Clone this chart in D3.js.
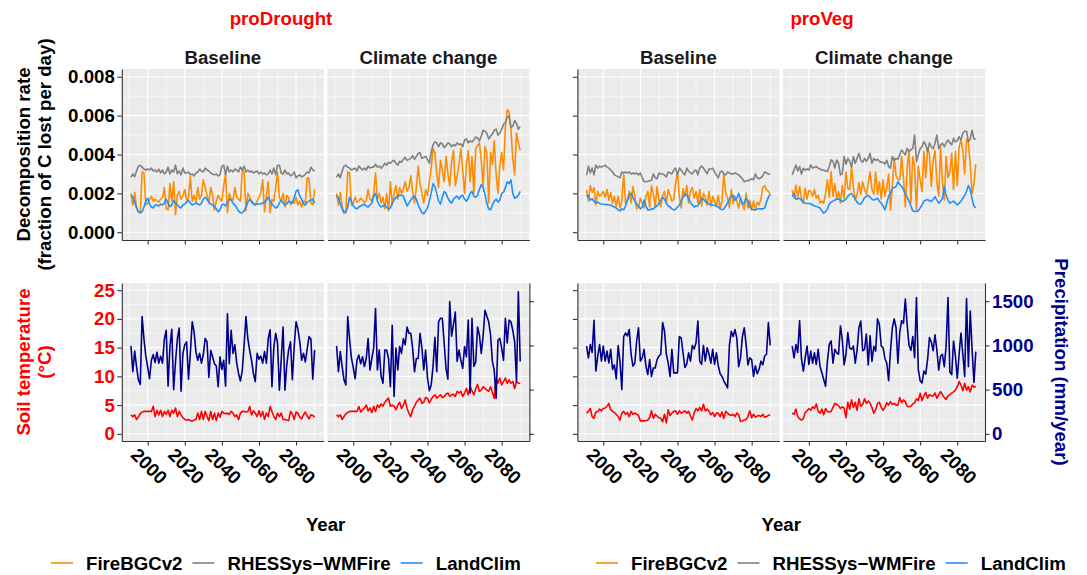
<!DOCTYPE html>
<html>
<head>
<meta charset="utf-8">
<script src="https://cdn.jsdelivr.net/npm/d3@7"></script>
<style>
  body { margin: 0; background: #fff; overflow: hidden; }
  text { font-family: "Liberation Sans", Arial, sans-serif; font-weight: bold; }
</style>
</head>
<body>
<div id="chart"></div>
<script>
// --- categories & ticks ---
const years = d3.range(1991, 2091);
const xTicks = [2000, 2020, 2040, 2060, 2080];
const xMinor = [1990, 2010, 2030, 2050, 2070, 2090];
const decompTicks = [0, 0.002, 0.004, 0.006, 0.008];
const decompMinor = [0.001, 0.003, 0.005, 0.007];
const tempTicks = [0, 5, 10, 15, 20, 25];
const tempMinor = [2.5, 7.5, 12.5, 17.5, 22.5];
const precipTicks = [0, 500, 1000, 1500];
const sites = ["proDrought", "proVeg"];
const scenarios = ["Baseline", "Climate change"];
const models = ["FireBGCv2", "RHESSys\u2212WMFire", "LandClim"];
const modelColors = ["#FF8C00", "#808080", "#1E90FF"];

// --- decomposition rate (x 1e-3, fraction of C lost per day), 1991-2090 ---
const droughtBaseFire = [
  2.0, 1.4, 2.05, 1.3, 1.05, 1.0, 3.1, 3.05, 1.4, 1.5,
  1.65, 1.85, 1.6, 1.7, 1.6, 1.55, 1.7, 1.8, 2.3, 1.2,
  1.15, 2.5, 1.6, 2.6, 0.9, 1.9, 2.1, 1.7, 1.9, 2.2,
  1.65, 1.8, 2.85, 1.6, 1.9, 1.55, 2.3, 1.7, 1.9, 2.7,
  2.3, 1.9, 1.5, 2.3, 1.9, 1.15, 1.6, 1.9, 1.7, 1.6,
  2.4, 3.0, 1.0, 2.0, 1.7, 1.65, 2.3, 1.8, 1.7, 1.6,
  3.2, 3.1, 1.1, 2.0, 1.8, 1.6, 1.5, 1.4, 1.6, 1.8,
  2.0, 2.7, 1.05, 1.9, 2.6, 1.0, 1.7, 1.6, 2.3, 3.1,
  1.8, 1.6, 2.0, 1.3, 1.9, 1.75, 1.4, 1.6, 1.5, 1.8,
  1.4, 1.6, 1.3, 1.6, 1.5, 2.8, 2.75, 1.5, 1.4, 2.2
];
const droughtBaseRhessys = [
  2.83, 3.0, 2.85, 3.15, 3.4, 3.45, 3.35, 3.25, 3.2, 3.25,
  3.2, 3.3, 3.15, 3.2, 3.1, 3.25, 3.05, 3.2, 3.0, 3.1,
  3.35, 3.0, 3.2, 3.1, 3.45, 3.0, 3.15, 2.95, 3.3, 3.05,
  3.05, 3.1, 2.95, 3.0, 2.9, 3.05, 3.1, 3.25, 3.15, 3.1,
  3.3, 3.2, 3.15, 3.05, 3.0, 2.95, 3.0, 2.9, 2.95, 3.4,
  3.45, 2.95, 3.4, 3.1, 3.2, 3.1, 3.25, 3.2, 3.1, 3.35,
  3.2, 3.4, 3.1, 3.2, 3.1, 3.15, 3.05, 3.1, 3.15, 3.0,
  3.1, 3.0, 3.05, 2.95, 3.0, 3.2, 3.0, 3.3, 2.95, 3.45,
  3.45, 3.05, 3.0, 3.2, 3.0, 3.05, 2.9, 2.95, 3.1, 2.8,
  2.9, 2.95, 2.85, 2.9, 3.0, 3.1, 3.05, 3.35, 3.2, 3.15
];
const droughtBaseLandclim = [
  1.9, 1.8, 1.55, 1.25, 1.05, 1.0, 1.05, 1.3, 1.6, 1.75,
  1.45, 1.3, 1.25, 1.4, 1.4, 1.35, 1.45, 1.4, 1.5, 1.7,
  1.5, 1.32, 1.4, 1.65, 1.5, 1.4, 1.3, 1.25, 1.4, 1.45,
  1.55, 1.65, 1.5, 1.4, 1.45, 1.5, 1.45, 1.4, 1.5, 1.7,
  1.8, 1.7, 1.55, 1.45, 1.4, 1.3, 1.2, 1.05, 1.15, 1.4,
  1.45, 1.35, 1.55, 1.7, 1.65, 1.5, 1.4, 1.25, 1.1, 1.0,
  1.0, 1.1, 1.3, 1.55, 1.7, 1.55, 1.45, 1.4, 1.45, 1.45,
  1.45, 1.5, 1.55, 1.65, 1.8, 1.6, 1.45, 1.35, 1.25, 1.3,
  1.5, 1.65, 1.5, 1.4, 1.45, 1.6, 1.55, 1.5, 1.8, 2.1,
  2.2, 1.85, 1.7, 1.45, 1.4, 1.55, 1.6, 1.65, 1.7, 1.5
];
const droughtCCFire = [
  2.0, 1.4, 2.05, 1.3, 1.05, 1.0, 3.1, 3.05, 1.4, 1.5,
  1.8, 1.55, 1.6, 1.75, 1.65, 1.55, 1.6, 2.2, 1.7, 1.6,
  2.0, 3.05, 1.7, 2.0, 1.5, 1.8, 1.2, 2.0, 1.1, 2.6,
  1.4, 2.0, 2.4, 1.7, 2.3, 2.0, 2.2, 2.6, 2.1, 2.3,
  2.9, 2.1, 1.5, 2.3, 3.4, 2.5, 2.0, 1.5, 2.2, 1.9,
  2.6, 3.3, 4.3, 4.1, 3.0, 2.3, 3.7, 3.2, 2.6, 3.9,
  3.0, 2.4, 3.6, 4.2, 2.4, 2.9, 3.5, 4.3, 3.2, 2.0,
  3.5, 4.2, 2.6, 3.9, 2.0, 4.3, 4.45, 4.6, 3.7, 2.4,
  4.4, 4.1, 1.5, 4.1, 3.5, 4.7, 3.0, 2.0, 3.4, 4.1,
  3.2, 5.4, 6.3, 6.2, 5.3, 3.8, 2.95, 5.1, 4.6, 4.2
];
const droughtCCRhessys = [
  2.83, 3.0, 2.8, 3.15, 3.4, 3.45, 3.35, 3.3, 3.2, 3.25,
  3.3, 3.15, 3.4, 3.3, 3.2, 3.3, 3.2, 3.4, 3.3, 3.35,
  3.35, 3.5, 3.35, 3.4, 3.3, 3.4, 3.55, 3.45, 3.6, 3.55,
  3.65, 3.7, 3.55, 3.45, 3.65, 3.6, 3.75, 3.85, 3.7, 3.75,
  3.8, 3.95, 3.75, 3.9, 4.05, 4.1, 3.8, 3.85, 3.9, 3.75,
  3.55, 4.1, 4.5, 4.65, 4.6, 4.4, 4.6, 4.55, 4.35, 4.45,
  4.6, 4.55, 4.4, 4.5, 4.45, 4.6, 4.5, 4.55, 4.4, 4.75,
  4.8, 4.6, 4.7, 4.65, 4.75, 4.9, 4.85, 4.7, 4.95, 5.25,
  5.2, 5.1, 4.8, 4.95, 5.05, 5.25, 5.3, 5.0, 5.1, 5.3,
  5.55, 5.65, 5.9, 6.0, 5.4, 5.45, 5.75, 5.6, 5.3, 5.45
];
const droughtCCLandclim = [
  1.9, 1.75, 1.45, 1.2, 1.0, 1.05, 1.3, 1.8, 1.6, 1.35,
  1.25, 1.2, 1.3, 1.35, 1.4, 1.45, 1.35, 1.3, 1.4, 1.5,
  1.85, 2.0, 1.6, 1.4, 1.3, 1.35, 1.4, 1.3, 1.2, 1.25,
  1.5, 1.65, 1.8, 1.85, 1.9, 1.9, 1.85, 1.6, 1.35, 1.5,
  1.65, 1.8, 1.85, 1.7, 1.4, 1.2, 1.0, 0.95, 1.1, 1.25,
  1.6, 2.0, 2.5, 2.35, 2.0, 1.6, 1.45, 1.8, 2.1, 2.0,
  1.75, 1.6, 1.5, 1.7, 1.8, 1.85, 1.7, 1.85, 1.9, 1.7,
  1.6, 1.75, 2.0, 2.1, 1.85, 1.8, 1.9, 2.2, 2.45, 2.3,
  1.95, 1.5, 1.2, 1.15, 1.4, 1.6, 1.7, 1.55, 1.65, 2.0,
  2.05, 2.3, 2.6, 2.5, 2.7, 2.0, 1.75, 1.8, 1.9, 2.1
];
const vegBaseFire = [
  2.17, 1.6, 2.4, 2.05, 2.3, 1.4, 2.1, 1.85, 1.95, 2.1,
  1.8, 2.2, 1.65, 2.05, 1.5, 1.85, 1.35, 1.85, 1.25, 1.6,
  3.0, 1.5, 1.65, 2.1, 1.5, 2.35, 1.85, 1.2, 1.3, 1.75,
  1.5, 1.25, 1.85, 2.1, 1.3, 2.4, 1.95, 1.3, 2.35, 1.65,
  1.3, 1.9, 2.1, 1.5, 2.2, 1.9, 1.6, 1.7, 2.5, 3.1,
  1.85, 1.25, 2.25, 1.85, 2.4, 1.5, 2.1, 2.3, 1.75, 2.1,
  1.5, 2.2, 1.35, 2.0, 1.8, 1.4, 2.1, 1.35, 1.85, 1.6,
  1.35, 1.9, 1.25, 1.6, 3.0, 2.0, 1.75, 1.25, 2.2, 1.5,
  1.85, 1.6, 1.25, 1.8, 1.45, 1.15, 2.0, 1.25, 1.65, 1.15,
  1.6, 1.2, 1.55, 1.4, 1.7, 2.3, 2.4, 2.2, 2.1, 1.95
];
const vegBaseRhessys = [
  2.94, 3.4, 3.05, 3.3, 2.95, 3.45, 3.3, 3.4, 3.35, 3.4,
  3.45, 3.35, 3.3, 3.2, 3.1, 2.95, 2.9, 2.85, 2.8, 3.1,
  3.05, 3.1, 3.05, 3.1, 3.0, 3.05, 3.0, 3.05, 2.95, 3.05,
  2.8, 2.6, 2.6, 2.62, 2.65, 2.68, 3.0, 2.8, 2.75, 3.05,
  3.0, 3.0, 2.95, 2.85, 3.1, 3.05, 3.0, 3.2, 3.3, 2.95,
  3.3, 3.2, 3.05, 2.95, 3.3, 3.15, 3.05, 3.0, 3.15, 3.2,
  2.95, 3.3, 3.4, 3.3, 3.15, 3.0, 3.25, 3.25, 3.3, 3.1,
  2.95, 2.8, 3.1, 3.15, 3.0, 2.95, 3.1, 3.05, 3.0, 3.0,
  3.05, 3.0, 2.95, 2.85, 2.75, 2.6, 2.65, 2.65, 2.7, 2.75,
  2.7, 3.0, 2.8, 2.75, 2.8, 2.9, 3.1, 3.05, 3.0, 3.0
];
const vegBaseLandclim = [
  1.83, 1.9, 1.65, 1.72, 1.6, 1.5, 1.55, 1.48, 1.45, 1.44,
  1.43, 1.42, 1.4, 1.4, 1.35, 1.3, 1.25, 1.15, 1.1, 1.2,
  1.15, 1.35, 1.65, 1.9, 2.0, 1.8, 1.6, 1.45, 1.35, 1.2,
  1.3, 1.65, 1.35, 1.15, 1.15, 1.2, 1.2, 1.3, 1.35, 1.5,
  1.65, 1.8, 1.7, 1.5, 1.35, 1.3, 1.2, 1.15, 1.18, 1.3,
  1.4, 1.6, 1.8, 1.95, 1.95, 1.7, 1.55, 1.4, 1.3, 1.35,
  1.35, 1.55, 1.75, 1.7, 1.6, 1.5, 1.45, 1.42, 1.4, 1.38,
  1.35, 1.3, 1.2, 1.15, 1.2, 1.35, 1.5, 1.7, 1.85, 1.9,
  1.65, 1.75, 2.0, 1.7, 1.45, 1.5, 1.75, 1.6, 1.3, 1.2,
  1.15, 1.15, 1.2, 1.22, 1.2, 1.2, 1.25, 1.55, 1.8, 1.95
];
const vegCCFire = [
  2.18, 1.75, 2.43, 1.8, 2.35, 1.75, 1.5, 2.26, 1.7, 2.15,
  2.1, 1.85, 2.2, 1.75, 1.9, 1.5, 1.6, 1.5, 2.0, 2.7,
  1.8, 3.12, 1.85, 2.5, 1.7, 2.1, 1.5, 2.4, 1.7, 3.1,
  2.25, 2.2, 3.38, 2.3, 1.65, 1.95, 2.55, 1.95, 2.6, 2.2,
  1.95, 2.5, 3.1, 2.2, 1.95, 3.1, 1.95, 2.6, 1.7, 2.7,
  1.85, 2.3, 3.0, 1.15, 2.4, 3.8, 2.9, 2.7, 2.7, 3.9,
  2.8, 1.3, 3.3, 4.23, 1.5, 3.9, 3.4, 1.15, 3.4, 2.7,
  2.1, 4.15, 2.8, 4.32, 4.0, 2.35, 3.7, 4.2, 2.6, 1.85,
  4.4, 2.6, 1.66, 3.9, 2.8, 3.1, 4.06, 2.2, 4.15, 2.4,
  4.4, 4.75, 4.2, 3.0, 4.8, 4.6, 3.5, 2.0, 2.5, 3.5
];
const vegCCRhessys = [
  2.95, 3.2, 3.46, 3.15, 3.38, 3.0, 3.29, 3.2, 3.25, 3.2,
  3.46, 3.3, 3.35, 3.38, 3.3, 3.25, 3.2, 3.2, 3.15, 3.12,
  3.4, 3.72, 3.65, 3.3, 3.72, 3.55, 2.95, 3.0, 3.9, 3.5,
  3.8, 3.65, 3.35, 3.9, 3.55, 3.8, 4.06, 3.7, 3.6, 3.8,
  3.65, 3.8, 4.06, 3.55, 3.8, 3.7, 3.75, 3.65, 3.6, 3.6,
  3.5, 3.7, 3.38, 3.3, 3.9, 3.7, 3.8, 3.75, 4.0, 4.23,
  4.1, 3.98, 4.32, 4.15, 4.25, 4.32, 5.0, 3.63, 4.0, 4.3,
  4.4, 4.66, 4.5, 4.15, 4.6, 4.4, 4.3, 4.58, 5.0, 4.3,
  4.5, 4.58, 4.4, 4.6, 4.75, 4.6, 4.5, 4.83, 4.65, 4.7,
  4.92, 4.75, 5.09, 5.2, 5.2, 4.66, 4.8, 5.25, 4.8, 4.8
];
const vegCCLandclim = [
  1.83, 2.0, 1.7, 1.72, 1.75, 1.65, 1.55, 1.5, 1.48, 1.48,
  1.45, 1.4, 1.35, 1.32, 1.3, 1.25, 1.1, 0.98, 1.05, 1.2,
  1.45, 1.55, 1.6, 1.65, 1.7, 1.72, 1.65, 1.58, 1.62, 1.7,
  1.85, 1.95, 2.0, 1.85, 1.7, 1.55, 1.45, 1.45, 1.6, 1.78,
  1.85, 1.9, 1.8, 1.7, 1.66, 1.7, 1.75, 1.6, 1.5, 1.35,
  1.15, 1.5, 1.85, 2.0, 2.26, 2.3, 2.35, 2.6, 2.45, 2.35,
  2.2, 2.0, 1.8, 1.6, 1.35, 1.1, 1.06, 1.08, 1.1, 1.25,
  1.4, 1.6, 1.65, 1.68, 1.62, 1.58, 1.7, 1.83, 1.65, 1.5,
  1.6, 1.75, 2.35, 1.9, 1.65, 1.5, 1.55, 1.6, 1.5, 1.4,
  1.5, 1.6, 1.75, 1.9, 2.1, 2.4, 2.2, 1.7, 1.35, 1.25
];

// --- soil temperature (°C) ---
const droughtBaseSoilT = [
  3.3, 3.0, 3.3, 2.5, 2.9, 3.5, 3.8, 3.9, 3.9, 3.9,
  3.9, 3.9, 4.8, 3.0, 4.1, 3.3, 4.1, 3.0, 3.9, 3.4,
  4.1, 3.0, 4.1, 3.6, 4.5, 3.0, 3.9, 3.3, 2.8, 2.5,
  2.4, 2.5, 2.3, 2.2, 2.4, 2.5, 3.6, 2.5, 3.9, 2.5,
  3.9, 3.0, 2.3, 3.9, 2.5, 3.6, 2.3, 3.6, 2.9, 3.9,
  3.6, 3.5, 3.6, 3.4, 3.9, 3.6, 3.0, 3.3, 2.5, 3.6,
  3.9, 3.9, 3.8, 3.9, 4.75, 3.3, 4.0, 3.6, 3.0, 4.0,
  3.0, 3.9, 2.5, 3.6, 3.0, 4.75, 3.9, 3.0, 2.5, 3.6,
  3.0, 3.6, 2.5, 2.5, 2.4, 2.3, 3.9, 3.5, 2.5, 3.8,
  3.6, 2.9, 2.6, 3.3, 3.8, 3.1, 2.6, 3.3, 3.2, 2.9
];
const droughtCCSoilT = [
  3.3, 3.0, 3.3, 2.5, 3.0, 3.5, 3.7, 3.9, 3.9, 3.9,
  3.9, 3.9, 4.75, 3.8, 4.2, 4.5, 5.0, 4.0, 4.5, 3.7,
  4.8, 3.9, 5.0, 4.6, 5.2, 4.8, 5.5, 5.9, 6.2, 4.8,
  5.0, 4.8, 4.2, 5.0, 5.5, 4.4, 5.0, 5.9, 4.4, 3.6,
  3.0, 4.2, 4.8, 5.5, 5.9, 6.2, 5.3, 5.5, 6.3, 6.2,
  5.4, 6.0, 6.5, 6.8, 6.2, 6.5, 6.8, 6.3, 6.5, 6.9,
  7.1, 6.5, 6.8, 6.9, 6.5, 7.4, 7.1, 7.4, 6.5, 7.1,
  7.9, 6.8, 8.2, 7.5, 6.8, 7.8, 8.6, 7.4, 7.6, 8.2,
  7.9, 7.6, 7.4, 8.2, 7.2, 6.2, 9.7, 8.8, 9.7, 8.5,
  9.1, 9.7, 8.8, 9.4, 8.8, 9.1, 7.9, 9.1, 8.8, 8.8
];
const vegBaseSoilT = [
  3.6, 3.9, 4.4, 3.0, 2.7, 3.8, 3.9, 4.3, 4.0, 4.4,
  4.5, 4.8, 5.3, 4.2, 3.9, 3.7, 3.4, 3.0, 2.4, 3.6,
  3.9, 3.4, 3.7, 3.0, 3.9, 3.4, 3.6, 3.4, 3.2, 2.25,
  2.3, 2.25, 2.3, 2.4, 2.8, 4.0, 2.7, 3.4, 3.1, 2.8,
  2.7, 2.1, 3.4, 1.9, 4.2, 3.2, 3.6, 3.9, 4.0, 3.4,
  4.0, 3.6, 3.8, 4.0, 3.6, 3.9, 3.1, 2.4, 3.6, 4.4,
  4.0, 4.6, 4.0, 5.15, 4.0, 4.3, 3.9, 3.3, 3.7, 3.0,
  3.6, 3.6, 3.0, 3.8, 2.7, 3.9, 3.6, 3.3, 3.2, 3.4,
  3.0, 3.6, 3.3, 2.15, 2.25, 2.4, 2.5, 3.0, 4.0, 2.8,
  3.4, 2.9, 3.1, 3.2, 3.0, 3.4, 2.9, 3.0, 3.2, 3.3
];
const vegCCSoilT = [
  3.6, 3.4, 4.3, 3.0, 2.6, 2.4, 2.6, 3.7, 4.0, 4.4,
  4.1, 4.7, 4.4, 5.2, 3.9, 3.6, 4.3, 3.3, 4.4, 3.9,
  3.8, 3.9, 4.6, 5.3, 5.1, 4.9, 4.4, 4.7, 4.5, 2.8,
  5.5, 4.3, 5.9, 4.6, 5.5, 4.1, 6.1, 4.8, 5.1, 6.1,
  5.3, 5.7, 5.3, 4.6, 3.6, 4.2, 5.3, 5.5, 4.6, 4.1,
  4.6, 5.4, 5.0, 5.6, 5.1, 5.3, 5.0, 5.0, 6.3, 5.4,
  5.9, 5.6, 4.8, 4.7, 4.8, 5.2, 5.4, 6.1, 5.8, 7.06,
  5.8, 6.6, 7.2, 6.2, 6.8, 6.6, 6.6, 7.1, 6.2, 6.8,
  7.35, 6.8, 6.3, 6.0, 6.6, 6.8, 7.1, 7.3, 7.6, 8.2,
  9.1, 8.5, 7.5, 8.8, 7.6, 8.2, 7.3, 8.5, 8.1, 8.3
];

// --- precipitation (mm/year) ---
const droughtBasePrecip = [
  995, 702, 936, 761, 611, 559, 1326, 1073, 878, 754,
  624, 832, 897, 806, 923, 800, 878, 800, 1073, 1170,
  540, 988, 1183, 500, 813, 1073, 1196, 481, 910, 1008,
  1040, 618, 910, 1268, 1157, 930, 832, 910, 800, 897,
  1079, 1040, 637, 943, 871, 793, 767, 533, 871, 728,
  832, 540, 1359, 793, 1170, 910, 1008, 800, 683, 598,
  715, 1008, 1326, 1073, 943, 832, 683, 592, 910, 845,
  878, 800, 930, 800, 1079, 1177, 533, 975, 1138, 1027,
  494, 845, 1209, 494, 780, 949, 1040, 611, 988, 1268,
  1183, 1040, 832, 910, 813, 962, 1099, 1073, 618, 949
];
const droughtCCPrecip = [
  995, 702, 930, 761, 611, 553, 1326, 1073, 858, 748,
  624, 832, 891, 793, 871, 761, 852, 1079, 722, 852,
  975, 1417, 722, 949, 650, 572, 949, 949, 852, 533,
  1229, 423, 969, 722, 988, 910, 1079, 1008, 1209, 1138,
  1138, 969, 702, 852, 852, 1138, 969, 722, 949, 637,
  488, 553, 761, 1092, 702, 1268, 1307, 1307, 1027, 741,
  618, 1495, 1105, 1235, 1378, 819, 949, 832, 741, 988,
  871, 1287, 462, 1307, 761, 813, 1209, 1118, 910, 1105,
  1398, 1333, 1268, 1118, 819, 715, 403, 1060, 1079, 969,
  832, 1307, 1027, 1287, 1268, 1170, 1040, 592, 1606, 819
];
const vegBasePrecip = [
  993, 860, 1010, 920, 1285, 710, 880, 1010, 822, 993,
  822, 936, 803, 955, 728, 780, 620, 1000, 822, 500,
  1100, 1140, 1107, 1180, 900, 766, 800, 1050, 1200, 822,
  860, 955, 766, 671, 840, 650, 745, 745, 840, 880,
  900, 1260, 1160, 900, 803, 650, 955, 690, 690, 690,
  1100, 1085, 917, 750, 790, 917, 822, 1000, 960, 1030,
  1277, 822, 785, 1000, 822, 974, 900, 800, 955, 785,
  917, 770, 680, 650, 600, 560, 520, 1000, 1160, 1100,
  1180, 1080, 760, 860, 1100, 1200, 1012, 780, 860, 840,
  650, 770, 680, 730, 822, 780, 880, 900, 1258, 1000
];
const vegCCPrecip = [
  993, 860, 1010, 920, 1280, 850, 709, 860, 993, 784,
  936, 800, 917, 784, 955, 765, 690, 614, 538, 822,
  1012, 1050, 800, 955, 917, 900, 1220, 1070, 780, 900,
  1145, 970, 955, 993, 800, 950, 1200, 1277, 940, 955,
  1130, 780, 1110, 820, 990, 936, 1300, 1240, 993, 975,
  850, 800, 600, 940, 1200, 1300, 1200, 800, 1150, 1280,
  1250, 1524, 1230, 1000, 945, 1100, 860, 1543, 730, 600,
  575, 710, 675, 840, 1090, 1040, 940, 1120, 950, 720,
  880, 900, 760, 1000, 1543, 700, 670, 1050, 880, 630,
  900, 1140, 900, 650, 1530, 760, 1390, 950, 580, 930
];

// panels: [site][scenario]
const panels = [
  { site: 0, scen: 0, decomp: [droughtBaseFire, droughtBaseRhessys, droughtBaseLandclim], soil: droughtBaseSoilT, precip: droughtBasePrecip },
  { site: 0, scen: 1, decomp: [droughtCCFire, droughtCCRhessys, droughtCCLandclim], soil: droughtCCSoilT, precip: droughtCCPrecip },
  { site: 1, scen: 0, decomp: [vegBaseFire, vegBaseRhessys, vegBaseLandclim], soil: vegBaseSoilT, precip: vegBasePrecip },
  { site: 1, scen: 1, decomp: [vegCCFire, vegCCRhessys, vegCCLandclim], soil: vegCCSoilT, precip: vegCCPrecip }
];

// --- layout ---
const W = 1087, H = 575;
const panelW = 202, panelGap = 3.6;
const groupX = [121.8, 577.4];
const topY = [69, 240], botY = [283, 441];
const PRECIP_PER_DEG = 65;       // secondary axis: mm = °C * 65
const axisColor = "#333333";
const tempColor = "#FF0000", precipColor = "#00008B";
const FS = "18.67px";

const svg = d3.select("#chart").append("svg")
  .attr("width", W).attr("height", H);

const yDecomp = d3.scaleLinear().domain([-0.0004, 0.0084]).range([topY[1], topY[0]]);
const yTemp = d3.scaleLinear().domain([-1.25, 26.25]).range([botY[1], botY[0]]);
const yPrecip = d3.scaleLinear()
  .domain(yTemp.domain().map(v => v * PRECIP_PER_DEG))
  .range(yTemp.range());

function xScale(p) {
  const x0 = groupX[p.site] + p.scen * (panelW + panelGap);
  return d3.scaleLinear().domain([1991 - 4.95, 2090 + 4.95]).range([x0, x0 + panelW]);
}

function panelBg(x, y, yMajor, yMinor) {
  const g = svg.append("g");
  const [x0, x1] = x.range();
  const [yb, yt] = y.range();
  g.append("rect").attr("x", x0).attr("y", yt)
    .attr("width", x1 - x0).attr("height", yb - yt).attr("fill", "#EBEBEB");
  const grid = (vals, w, vertical) => g.selectAll(null).data(vals).join("line")
    .attr("x1", d => vertical ? x(d) : x0).attr("x2", d => vertical ? x(d) : x1)
    .attr("y1", d => vertical ? yt : y(d)).attr("y2", d => vertical ? yb : y(d))
    .attr("stroke", "#fff").attr("stroke-width", w);
  grid(yMinor, 0.55, false);
  grid(xMinor, 0.55, true);
  grid(yMajor, 1.1, false);
  grid(xTicks, 1.1, true);
}

function styleAxis(g, color) {
  g.attr("font-family", null).attr("font-size", null);
  g.select(".domain").attr("stroke", axisColor).attr("stroke-width", 1.1);
  g.selectAll(".tick line").attr("stroke", axisColor).attr("stroke-width", 1.1);
  g.selectAll(".tick text").style("font-size", FS).attr("fill", color || "#000");
}

const lineGen = (x, y, f) => d3.line()
  .x((d, i) => x(years[i]))
  .y(d => y(f(d)));

panels.forEach(p => {
  const x = xScale(p);

  // ---- top row: decomposition rate ----
  panelBg(x, yDecomp, decompTicks, decompMinor);
  p.decomp.forEach((series, k) => {
    svg.append("path").datum(series)
      .attr("fill", "none").attr("stroke", modelColors[k])
      .attr("stroke-width", 1.6).attr("stroke-linejoin", "round")
      .attr("d", lineGen(x, yDecomp, v => v / 1000));
  });
  svg.append("g").attr("transform", `translate(0,${topY[1]})`)
    .call(d3.axisBottom(x).tickValues(xTicks).tickSize(4.5).tickSizeOuter(0).tickFormat(""))
    .call(g => styleAxis(g));
  if (p.scen === 0) {
    svg.append("g").attr("transform", `translate(${x.range()[0]},0)`)
      .call(d3.axisLeft(yDecomp).tickValues(decompTicks).tickSize(4.5).tickSizeOuter(0)
        .tickPadding(2.5).tickFormat(p.site === 0 ? d3.format(".3f") : ""))
      .call(g => styleAxis(g));
  }

  // strip label
  svg.append("text")
    .attr("x", (x.range()[0] + x.range()[1]) / 2).attr("y", 64)
    .attr("text-anchor", "middle").style("font-size", FS).attr("fill", "#1A1A1A")
    .text(scenarios[p.scen]);

  // ---- bottom row: soil temperature & precipitation ----
  panelBg(x, yTemp, tempTicks, tempMinor);
  svg.append("path").datum(p.soil)
    .attr("fill", "none").attr("stroke", tempColor).attr("stroke-width", 1.6)
    .attr("stroke-linejoin", "round")
    .attr("d", lineGen(x, yTemp, v => v));
  svg.append("path").datum(p.precip)
    .attr("fill", "none").attr("stroke", precipColor).attr("stroke-width", 1.6)
    .attr("stroke-linejoin", "round")
    .attr("d", lineGen(x, yPrecip, v => v));

  svg.append("g").attr("transform", `translate(0,${botY[1]})`)
    .call(d3.axisBottom(x).tickValues(xTicks).tickSize(4.5).tickSizeOuter(0).tickFormat(d3.format("d")))
    .call(g => styleAxis(g))
    .call(g => g.selectAll(".tick text")
      .attr("y", 0).attr("dy", "0.35em").attr("text-anchor", "middle")
      .attr("transform", "translate(1,25) rotate(45)"));

  if (p.scen === 0) {
    svg.append("g").attr("transform", `translate(${x.range()[0]},0)`)
      .call(d3.axisLeft(yTemp).tickValues(tempTicks).tickSize(4.5).tickSizeOuter(0)
        .tickPadding(2.5).tickFormat(p.site === 0 ? d3.format("d") : ""))
      .call(g => styleAxis(g, tempColor));
  } else {
    svg.append("g").attr("transform", `translate(${x.range()[1]},0)`)
      .call(d3.axisRight(yPrecip).tickValues(precipTicks).tickSize(4.5).tickSizeOuter(0)
        .tickPadding(2.5).tickFormat(p.site === 1 ? d3.format("d") : ""))
      .call(g => styleAxis(g, precipColor));
  }
});

// ---- titles ----
const titleX = [281, 822];
sites.forEach((s, i) => {
  svg.append("text").attr("x", titleX[i]).attr("y", 25)
    .attr("text-anchor", "middle").style("font-size", FS).attr("fill", "#FF0000")
    .text(s);
  const cx = groupX[i] + panelW + panelGap / 2;
  svg.append("text").attr("x", cx).attr("y", 531)
    .attr("text-anchor", "middle").style("font-size", FS).attr("fill", "#000")
    .text("Year");
});

function vTitle(lines, xs, cy, color, angle) {
  lines.forEach((t, i) => {
    svg.append("text")
      .attr("transform", `translate(${xs[i]},${cy}) rotate(${angle})`)
      .attr("text-anchor", "middle").attr("dy", "0.35em")
      .style("font-size", FS).attr("fill", color)
      .text(t);
  });
}
vTitle(["Decomposition rate", "(fraction of C lost per day)"], [23, 44],
  (topY[0] + topY[1]) / 2, "#000", -90);
vTitle(["Soil temperature", "(\u00B0C)"], [23, 44], (botY[0] + botY[1]) / 2, tempColor, -90);
vTitle(["Precipitation (mm/year)"], [1062], (botY[0] + botY[1]) / 2, precipColor, 90);

// ---- legends ----
const legendStart = [51, 596];
legendStart.forEach(x0 => {
  let cx = x0;
  const ly = 563;
  models.forEach((m, k) => {
    svg.append("line").attr("x1", cx).attr("x2", cx + 22)
      .attr("y1", ly).attr("y2", ly)
      .attr("stroke", modelColors[k]).attr("stroke-width", 1.6);
    const t = svg.append("text").attr("x", cx + 35).attr("y", ly).attr("dy", "0.35em")
      .style("font-size", FS).attr("fill", "#000").text(m);
    cx += 35 + t.node().getComputedTextLength() + 10;
  });
});
</script>
</body>
</html>
